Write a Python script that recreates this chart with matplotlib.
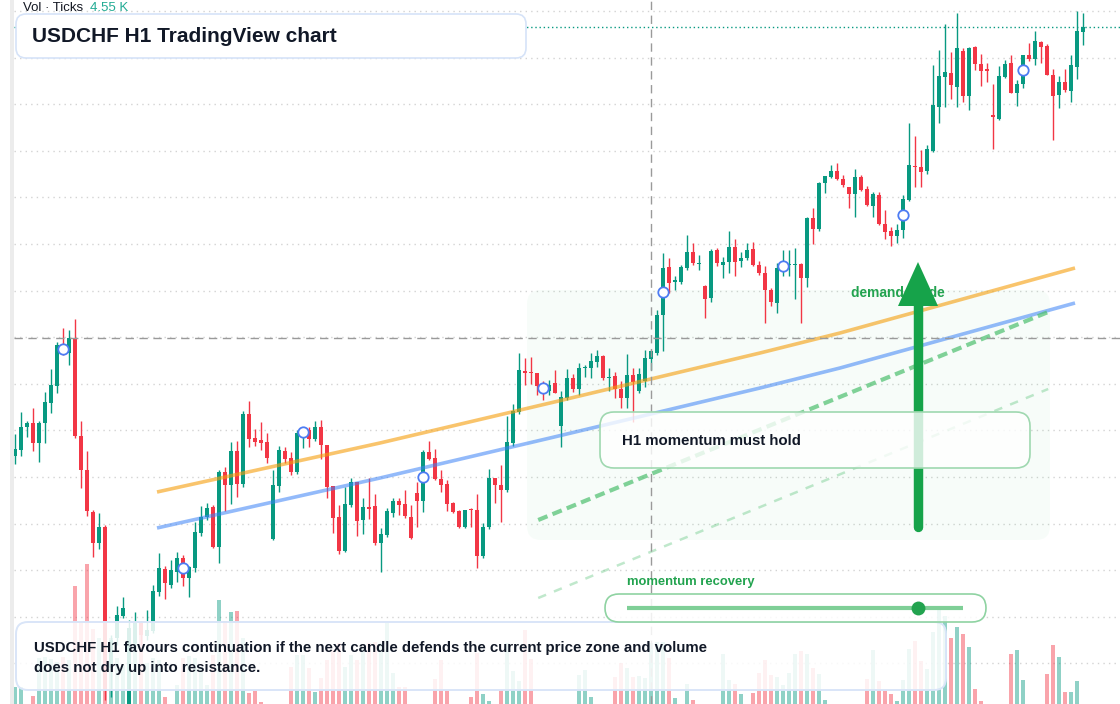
import numpy as np
import matplotlib
matplotlib.use("Agg")
import matplotlib.pyplot as plt
from matplotlib.patches import FancyBboxPatch, Polygon, Rectangle
from matplotlib.transforms import Affine2D

plt.rcParams["font.family"] = ["Liberation Sans", "DejaVu Sans"]

W, H = 1120, 704

# candles in screen rows (0 = top edge, no price scale is shown)
opens = [456, 450, 427, 423, 443, 423, 403, 386, 345, 353,
         339, 436, 470, 512, 543, 527, 668, 638, 616, 712,
         643, 622, 636, 631, 592, 569, 585, 572, 558, 578,
         568, 533, 517, 507, 547, 472, 485, 451, 484, 414,
         438, 440, 442, 539, 486, 451, 458, 472, 433, 430,
         439, 427, 445, 486, 517, 551, 505, 482, 520, 507,
         506, 543, 535, 513, 501, 504, 517, 493, 501, 452,
         458, 479, 484, 503, 511, 527, 509, 510, 556, 527,
         478, 485, 490, 443, 412, 371, 372, 373, 386, 391,
         383, 426, 398, 378, 389, 368, 368, 362, 356, 378,
         376, 389, 398, 375, 391, 381, 359, 353, 315, 267,
         282, 282, 268, 252, 264, 286, 298, 250, 265, 262,
         247, 261, 258, 249, 265, 273, 290, 303, 268, 265,
         265, 264, 278, 218, 229, 183, 177, 171, 179, 187,
         194, 177, 189, 206, 195, 224, 231, 236, 230, 200,
         166, 167, 171, 151, 107, 77, 73, 87, 51, 96,
         47, 64, 69, 115, 119, 77, 63, 93, 84, 55,
         59, 42, 46, 75, 95, 82, 91, 67, 32]
highs = [434, 412, 421, 408, 421, 392, 369, 342, 328, 330,
         319, 421, 451, 510, 513, 525, 635, 606, 597, 620,
         612, 621, 610, 585, 553, 566, 560, 552, 555, 566,
         522, 506, 503, 505, 470, 467, 442, 441, 411, 401,
         429, 422, 433, 470, 446, 447, 452, 430, 427, 427,
         421, 420, 445, 486, 505, 487, 478, 482, 498, 478,
         494, 528, 508, 498, 498, 490, 505, 482, 450, 441,
         449, 470, 480, 502, 510, 510, 508, 494, 523, 469,
         478, 465, 416, 404, 353, 358, 357, 373, 381, 380,
         370, 391, 369, 374, 363, 365, 353, 350, 355, 368,
         372, 381, 354, 368, 368, 350, 350, 310, 253, 258,
         276, 265, 235, 243, 255, 285, 249, 248, 257, 231,
         239, 252, 243, 242, 261, 266, 288, 263, 250, 250,
         248, 263, 217, 208, 182, 176, 165, 163, 175, 187,
         169, 175, 186, 192, 192, 210, 227, 224, 195, 123,
         136, 150, 145, 65, 50, 24, 52, 13, 48, 47,
         46, 54, 63, 84, 66, 60, 55, 80, 55, 43,
         31, 41, 44, 69, 76, 69, 55, 11, 13]
lows = [464, 456, 437, 451, 462, 443, 413, 393, 355, 365,
        438, 488, 516, 557, 549, 700, 697, 645, 618, 716,
        650, 645, 640, 633, 596, 599, 588, 582, 586, 597,
        572, 536, 520, 548, 563, 511, 504, 497, 487, 447,
        446, 450, 463, 540, 492, 463, 475, 474, 448, 447,
        441, 459, 498, 533, 554, 552, 507, 536, 534, 519,
        545, 572, 537, 517, 515, 518, 539, 527, 512, 460,
        480, 492, 511, 513, 528, 528, 527, 568, 558, 529,
        503, 522, 492, 446, 414, 385, 384, 395, 400, 395,
        393, 447, 400, 392, 395, 377, 378, 367, 380, 391,
        398, 408, 408, 422, 393, 387, 370, 355, 351, 293,
        290, 284, 270, 265, 270, 318, 302, 266, 278, 273,
        276, 267, 260, 266, 275, 323, 306, 313, 276, 276,
        299, 323, 287, 244, 231, 193, 178, 180, 187, 208,
        217, 191, 206, 217, 225, 239, 246, 243, 238, 201,
        187, 187, 174, 152, 123, 107, 99, 107, 102, 110,
        70, 86, 82, 149, 120, 78, 93, 106, 88, 61,
        65, 63, 75, 140, 108, 92, 102, 79, 45]
closes = [449, 427, 423, 443, 423, 402, 385, 345, 352, 338,
          436, 470, 511, 543, 527, 690, 640, 615, 608, 628,
          622, 635, 630, 591, 568, 583, 570, 558, 578, 567,
          532, 517, 508, 547, 472, 485, 451, 484, 414, 439,
          442, 443, 458, 485, 450, 459, 472, 433, 431, 439,
          427, 445, 487, 518, 551, 504, 482, 521, 507, 509,
          543, 534, 511, 501, 505, 516, 538, 501, 452, 459,
          479, 485, 504, 512, 527, 510, 510, 556, 527, 478,
          485, 490, 442, 411, 370, 373, 373, 386, 390, 385,
          393, 397, 378, 389, 368, 367, 361, 356, 378, 377,
          389, 398, 375, 382, 374, 358, 351, 315, 268, 283,
          280, 267, 252, 263, 263, 299, 251, 263, 262, 247,
          262, 258, 250, 265, 273, 290, 302, 268, 264, 264,
          264, 278, 218, 229, 183, 176, 171, 179, 185, 194,
          177, 190, 205, 194, 224, 232, 236, 230, 199, 165,
          167, 172, 149, 105, 76, 72, 85, 48, 96, 48,
          64, 71, 71, 117, 76, 64, 93, 84, 55, 59,
          41, 47, 75, 96, 82, 90, 65, 31, 27]
# tick volume, thousands
volume_k = [1.7, 1.7, 0, 0.8, 4.6, 4.7, 4.5, 4.2, 4.7, 4.4,
            11.8, 8.2, 14.0, 7.5, 6.6, 5.4, 6.6, 4.6, 3.9, 3.2,
            7.4, 7.9, 4.1, 4.6, 4.4, 0.7, 0, 1.9, 4.6, 4.8,
            4.6, 3.7, 1.9, 4.9, 10.4, 8.3, 9.2, 9.3, 6.6, 1.1,
            1.3, 0.2, 0, 0, 0, 0, 3.7, 4.9, 4.9, 3.6,
            1.2, 2.6, 4.4, 5.4, 6.1, 3.7, 4.9, 4.4, 5.6, 6.1,
            6.2, 6.1, 8.1, 3.1, 1.7, 1.7, 0, 0, 0, 0,
            2.5, 4.4, 1.3, 0, 0, 0, 0.7, 5.1, 1.0, 0.3,
            0, 1.4, 6.1, 3.3, 2.3, 7.4, 4.5, 0, 0, 0,
            0, 0, 0, 0, 2.9, 3.4, 0.7, 0, 0, 0,
            2.7, 4.1, 3.6, 2.7, 2.8, 2.6, 6.1, 6.2, 6.2, 4.6,
            0.6, 0, 2.0, 0.4, 0, 0, 0, 0, 5.0, 2.4,
            2.0, 1.0, 0, 1.1, 3.1, 4.4, 2.9, 2.7, 1.9, 3.1,
            5.0, 5.3, 5.0, 3.6, 3.0, 0.4, 0, 0, 0, 0,
            0, 0, 2.5, 5.4, 2.3, 1.3, 1.0, 0.3, 2.4, 5.5,
            6.3, 4.3, 3.5, 7.2, 9.4, 8.8, 6.6, 7.7, 7.0, 5.7,
            1.5, 0.3, 0, 0, 0, 0, 5.0, 5.4, 2.4, 0,
            0, 0, 3.0, 5.9, 4.7, 1.2, 1.2, 2.3, 0]

# overlays (x in candle index, y in screen rows)
ema_x = [23.67, 60.83, 89.17, 124.17, 137.5, 176.67]
ema_fast = [492, 443, 403, 353, 333, 268]
ema_slow = [528, 478, 438, 388, 368, 303]
trend_x = [87.2, 172.2]
trend_main = [520, 312]
trend_low = [598, 389]
crosshair_idx, crosshair_row = 106, 338
grid_rows = [11, 57.6, 104.2, 150.8, 197.4, 244, 290.6, 337.2,
             383.8, 430.4, 477, 523.6, 570.2, 616.8, 663.4]
grid_idx = [22, 46, 67, 94, 118, 142, 166]

GREEN, RED = "#089981", "#f23645"
INK = "#111827"
LABEL_GREEN = "#22a34f"

fig = plt.figure(figsize=(W / 100, H / 100), dpi=100)
fig.patch.set_facecolor("white")
PX = Affine2D().scale(1 / W, -1 / H).translate(0, 1) + fig.transFigure

ax = fig.add_axes([14 / W, 0, (W - 14) / W, 1])
ax_v = ax.twinx()
ax.set_zorder(2)
ax_v.set_zorder(1)
ax.patch.set_visible(False)

ax.set_xlim(-1 / 6, (W - 15) / 6)
ax.set_ylim(H, 0)
ax_v.set_ylim(0, H / 10)
for a in (ax, ax_v):
    for s in a.spines.values():
        s.set_visible(False)
    a.tick_params(length=0, labelleft=False, labelright=False, labelbottom=False)

# grid on the lower axes so it sits under everything
ax_v.set_xticks(grid_idx)
ax_v.set_yticks([(H - r) / 10 for r in grid_rows])
ax_v.grid(True, color="#d3d3d3", linestyle=(0, (1, 3)), linewidth=1)
ax.set_xticks([])
ax.set_yticks([])

idx = np.arange(len(opens))
o, h, l, c = (np.array(v, dtype=float) for v in (opens, highs, lows, closes))
up = c <= o
colors = np.where(up, GREEN, RED)

ax_v.bar(idx, volume_k, width=0.8, color=colors, alpha=0.45, linewidth=0, zorder=2)

# demand zone
ax.add_patch(FancyBboxPatch((527, 290), 523, 250, boxstyle="round,pad=0,rounding_size=14",
                            transform=PX, fc="#22c55e", alpha=0.035, ec="none", zorder=1))

ax.vlines(idx, h, l, colors=colors, linewidth=1, zorder=3)
top = np.minimum(o, c)
body = np.maximum(np.abs(c - o), 1.2)
ax.bar(idx, body, bottom=top, width=0.72, color=colors, linewidth=0, zorder=4)

ax.plot(ema_x, ema_fast, color="#f59e0b", alpha=0.6, lw=2.6, solid_capstyle="butt", zorder=5)
ax.plot(ema_x, ema_slow, color="#3b82f6", alpha=0.55, lw=2.6, solid_capstyle="butt", zorder=5)
ax.plot(trend_x, trend_main, color="#4cbf6e", alpha=0.7, lw=3, linestyle=(0, (2.4, 1.3)), zorder=5)
ax.plot(trend_x, trend_low, color="#4cbf6e", alpha=0.35, lw=1.8, linestyle=(0, (3.4, 3.4)), zorder=5)

# marker rings every 20 candles
for i in range(8, len(idx), 20):
    ax.plot(i, (o[i] + c[i]) / 2, "o", ms=7.5, mfc="white", mec="#4d7cf3", mew=1.3, zorder=6)

ax.axvline(crosshair_idx, color="#9a9a9a", lw=1, linestyle=(0, (6, 4)), zorder=5)
ax.axhline(crosshair_row, color="#9a9a9a", lw=1, linestyle=(0, (6, 4)), zorder=5)
ax.axhline(c[-1], color=GREEN, lw=1, linestyle=(0, (1, 2)), zorder=5)

# demand label + arrow
ax.text(851, 293, "demand guide", transform=PX, color=LABEL_GREEN, fontsize=9.9,
        fontweight="bold", va="center", ha="left", zorder=6)
ax.plot([918, 918], [527, 300], transform=PX, color="#16a34a", lw=6.8,
        solid_capstyle="round", zorder=7)
ax.add_patch(Polygon([(898, 306), (938, 306), (918, 262)], closed=True, transform=PX,
                     fc="#16a34a", ec="none", zorder=7))

# boxes
ax.add_patch(FancyBboxPatch((600, 412), 430, 56, boxstyle="round,pad=0,rounding_size=14",
                            transform=PX, fc=(1, 1, 1, 0.8), ec="#9fd8b0", lw=1.2, zorder=8))
ax.text(622, 441, "H1 momentum must hold", transform=PX, color=INK, fontsize=10.8,
        fontweight="bold", va="center", ha="left", zorder=9)

ax.add_patch(FancyBboxPatch((16, 622), 930, 68, boxstyle="round,pad=0,rounding_size=12",
                            transform=PX, fc=(1, 1, 1, 0.86), ec="#d9e5f8", lw=1.4, zorder=8))
ax.text(34, 648, "USDCHF H1 favours continuation if the next candle defends the current price zone and volume",
        transform=PX, color=INK, fontsize=10.8, fontweight="bold", va="center", ha="left", zorder=9)
ax.text(34, 668, "does not dry up into resistance.", transform=PX, color=INK, fontsize=10.8,
        fontweight="bold", va="center", ha="left", zorder=9)

ax.text(627, 582, "momentum recovery", transform=PX, color=LABEL_GREEN, fontsize=9.4,
        fontweight="bold", va="center", ha="left", zorder=9)
ax.add_patch(FancyBboxPatch((605, 594), 381, 28, boxstyle="round,pad=0,rounding_size=14",
                            transform=PX, fc=(1, 1, 1, 0.85), ec="#8fd3a2", lw=1.2, zorder=9))
ax.plot([627, 963], [608, 608], transform=PX, color="#7fcf97", lw=3, solid_capstyle="butt", zorder=10)
ax.plot([918], [608], "o", transform=PX, ms=10, color="#22a34f", mec="none", zorder=11)

ax.add_patch(FancyBboxPatch((16, 14), 510, 44, boxstyle="round,pad=0,rounding_size=10",
                            transform=PX, fc="white", ec="#d6e3f8", lw=1.2, zorder=10))
ax.text(32, 36, "USDCHF H1 TradingView chart", transform=PX, color=INK, fontsize=15,
        fontweight="bold", va="center", ha="left", zorder=11)

ax.text(23, 8, "Vol · Ticks", transform=PX, color="#131722", fontsize=9.5,
        va="center", ha="left", zorder=11)
ax.text(90, 8, "4.55 K", transform=PX, color="#22ab94", fontsize=9.5,
        va="center", ha="left", zorder=11)

fig.add_artist(Rectangle((10, 0), 4, H, transform=PX, fc="#ececec", ec="none"))

fig.savefig("out.png", dpi=100)
